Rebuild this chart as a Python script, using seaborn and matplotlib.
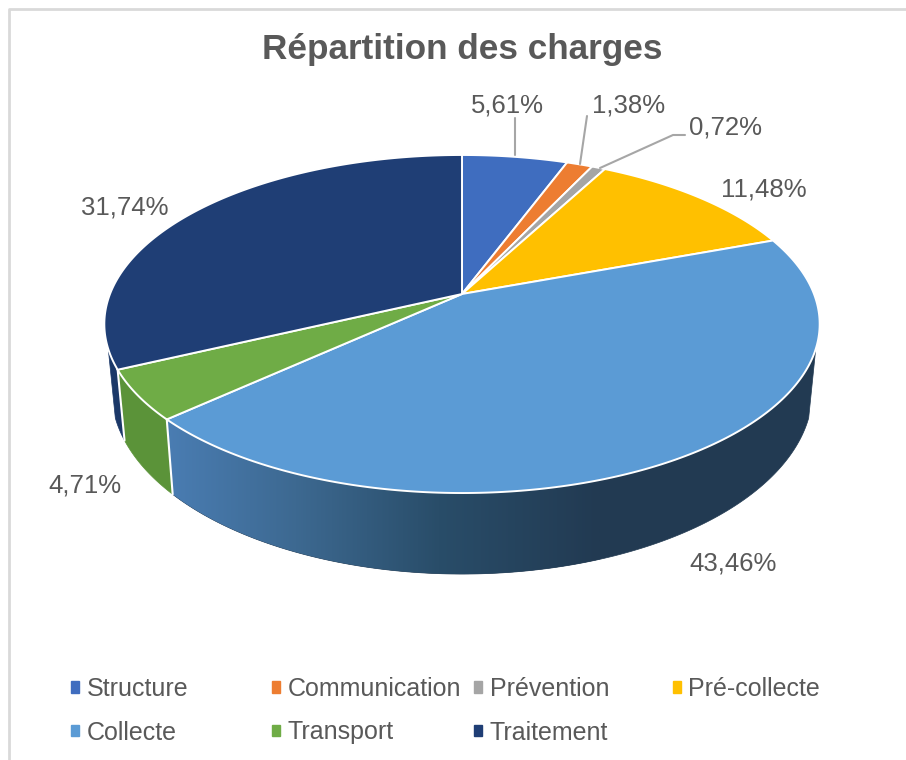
import numpy as np
import matplotlib
matplotlib.use("Agg")
import matplotlib.pyplot as plt
from matplotlib.colors import LinearSegmentedColormap
from matplotlib.patches import Patch, Polygon
import seaborn as sns

categories = ["Structure", "Communication", "Prévention", "Pré-collecte", "Collecte", "Transport", "Traitement"]
values = [5.61, 1.38, 0.72, 11.48, 43.46, 4.71, 31.74]
colors = ["#3F6DBF", "#ED7D31", "#A5A5A5", "#FFC000", "#5B9BD5", "#6FAC46", "#1F3E75"]
side_colors = ["#2F5597", "#B85F22", "#7F7F7F", "#BF9000", "#3F6F9F", "#5B9339", "#1B3868"]

label_pos = [(507, 106), (629, 106), (725, 128), (764, 190), (733, 563), (85, 486), (125, 207)]
leaders = {0: [(515, 155), (515, 118)],
           1: [(580, 164), (587, 116)],
           2: [(600, 168), (673, 135), (685, 135)]}
legend_cols = [(71, [0, 4]), (272, [1, 5]), (474, [2, 6]), (673, [3])]

sns.set_theme(style="white")
plt.rcParams["font.family"] = ["Liberation Sans", "DejaVu Sans"]

CX, CY = 462, 294
A, B, K = 352, 163.7, 0.1775
TEXT = "#595959"


def top_xy(theta):
    # clockwise from 12 o'clock, seen in perspective
    u, v = np.sin(theta), np.cos(theta)
    d = 1 + K * v
    return CX + A * u / d, CY - B * v / d


def bottom_xy(theta):
    x, y = top_xy(theta)
    return CX + 0.98 * (x - CX), y + 64.5 + 0.083 * (y - CY)


fig, ax = plt.subplots(figsize=(9.06, 7.6), dpi=100)
ax.set_position([0, 0, 1, 1])
fig.patch.set_facecolor("white")

# chart frame, only left and top are inside the crop
ax.plot([9, 9, 906], [760, 9, 9], color="#D9D9D9", lw=2, zorder=0)

edges = np.concatenate([[0], np.cumsum(values)]) / sum(values) * 2 * np.pi
side_start, side_end = np.radians(108.5), np.radians(251.5)

# the long front side goes dark from left to right
front_cmap = LinearSegmentedColormap.from_list("front", [
    (0.0, "#4A7DB3"), (0.3, "#3D6991"), (0.63, "#294D69"), (1.0, "#223A52")])

# side of the disc
for i in range(len(values)):
    t0, t1 = max(edges[i], side_start), min(edges[i + 1], side_end)
    if t1 <= t0:
        continue
    ts = np.linspace(t0, t1, 200)
    xa, ya = top_xy(ts)
    xb, yb = bottom_xy(ts[::-1])
    poly = Polygon(np.c_[np.r_[xa, xb], np.r_[ya, yb]], closed=True,
                   facecolor=side_colors[i], edgecolor=side_colors[i], lw=0.5, zorder=2)
    ax.add_patch(poly)
    if i == 4:
        im = ax.imshow(np.linspace(0, 1, 256)[None, :], cmap=front_cmap, aspect="auto",
                       extent=(165, 600, 600, 300), zorder=2.5)
        # keep the dark colour past the end of the ramp
        poly.set_facecolor("#223A52")
        poly.set_edgecolor("#223A52")
        im.set_clip_path(poly)
    if edges[i] > side_start:
        xt, yt = top_xy(edges[i])
        xb0, yb0 = bottom_xy(edges[i])
        ax.plot([xt, xb0], [yt, yb0], color="white", lw=1.5, zorder=3)

# top of the disc
for i in range(len(values)):
    ts = np.linspace(edges[i], edges[i + 1], 200)
    x, y = top_xy(ts)
    ax.fill(np.r_[CX, x], np.r_[CY, y], facecolor=colors[i], edgecolor="white", lw=1.4, zorder=4)

# labels and leader lines
for i, v in enumerate(values):
    ax.text(label_pos[i][0], label_pos[i][1], f"{v:.2f}".replace(".", ",") + "%",
            fontsize=18.5, color=TEXT, ha="center", va="center", zorder=6)
for i, pts in leaders.items():
    ax.plot([p[0] for p in pts], [p[1] for p in pts], color="#A6A6A6", lw=1.5, zorder=5)

ax.text(462, 50, "Répartition des charges", fontsize=25.3, fontweight="bold",
        color=TEXT, ha="center", va="center")

ax.set_xlim(0, 906)
ax.set_ylim(760, 0)
ax.axis("off")

# one legend per column, the columns are not evenly spaced
for x0, idx in legend_cols:
    handles = [Patch(color=colors[i], label=categories[i]) for i in idx]
    leg = ax.legend(handles=handles, loc="upper left", bbox_to_anchor=(x0, 677),
                    bbox_transform=ax.transData, frameon=False, fontsize=18,
                    labelcolor=TEXT, handlelength=0.32, handleheight=0.32,
                    handletextpad=0.3, labelspacing=0.78, borderpad=0, borderaxespad=0)
    if x0 != legend_cols[-1][0]:
        ax.add_artist(leg)

fig.savefig("out.png", dpi=100, facecolor="white")
